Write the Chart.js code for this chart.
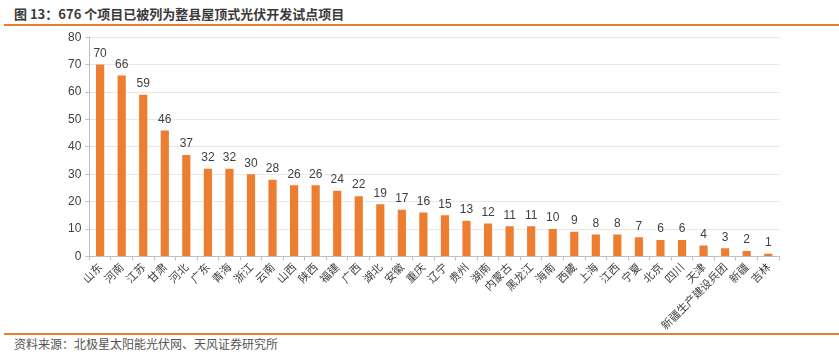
<!DOCTYPE html>
<html>
<head>
<meta charset="utf-8">
<script src="https://cdn.jsdelivr.net/npm/chart.js@4"></script>
<style>
  body { margin: 0; background: #fff; font-family: "Noto Sans CJK SC", "Liberation Sans", sans-serif; }
  #wrap { position: relative; width: 839px; height: 354px; overflow: hidden; }
  #titulo { position: absolute; left: 14px; top: 4px; font-size: 13px; font-weight: bold; color: #3a3a3a; }
  .linea { position: absolute; left: 4px; right: 0; height: 2px; background: #ED7D31; }
  #fuente { position: absolute; left: 14px; top: 335px; font-size: 12px; color: #555; }
  #lienzo { position: absolute; left: 0; top: 26px; width: 839px; height: 306px; }
</style>
</head>
<body>
<div id="wrap">
  <div id="titulo">图 13：676 个项目已被列为整县屋顶式光伏开发试点项目</div>
  <div class="linea" style="top:24px"></div>
  <div id="lienzo"><canvas id="grafica"></canvas></div>
  <div class="linea" style="top:333px"></div>
  <div id="fuente">资料来源：北极星太阳能光伏网、天风证券研究所</div>
</div>
<script>
// provincias y número de proyectos
const provincias = ['山东','河南','江苏','甘肃','河北','广东','青海','浙江','云南','山西','陕西','福建','广西','湖北','安徽','重庆','辽宁','贵州','湖南','内蒙古','黑龙江','海南','西藏','上海','江西','宁夏','北京','四川','天津','新疆生产建设兵团','新疆','吉林'];
const proyectos = [70,66,59,46,37,32,32,30,28,26,26,24,22,19,17,16,15,13,12,11,11,10,9,8,8,7,6,6,4,3,2,1];
const ticksY = [0,10,20,30,40,50,60,70,80];

// etiquetas encima de cada barra
const etiquetasValor = {
    id: 'etiquetasValor',
    afterDatasetsDraw(chart) {
        const ctx = chart.ctx;
        const meta = chart.getDatasetMeta(0);
        ctx.save();
        ctx.font = '12px "Liberation Sans", Arial, sans-serif';
        ctx.fillStyle = '#404040';
        ctx.textAlign = 'center';
        ctx.textBaseline = 'bottom';
        meta.data.forEach((barra, i) => {
            ctx.fillText(proyectos[i], barra.x, barra.y - 5);
        });
        ctx.restore();
    }
};

new Chart(document.getElementById('grafica'), {
    type: 'bar',
    data: {
        labels: provincias,
        datasets: [{
            data: proyectos,
            backgroundColor: '#ED7D31',
            borderWidth: 0,
            barPercentage: 0.38,
            categoryPercentage: 1
        }]
    },
    plugins: [etiquetasValor],
    options: {
        responsive: true,
        maintainAspectRatio: false,
        animation: false,
        layout: { padding: { left: 64, right: 60, top: 4, bottom: 0 } },
        plugins: { legend: { display: false }, tooltip: { enabled: false } },
        scales: {
            y: {
                min: 0, max: 80,
                afterBuildTicks: axis => { axis.ticks = ticksY.map(v => ({ value: v })); },
                grid: { color: '#e8e8e8', drawTicks: true, tickLength: 4, tickColor: '#bfbfbf' },
                border: { color: '#bfbfbf' },
                ticks: { color: '#404040', font: { size: 12, family: '"Liberation Sans", Arial, sans-serif' }, padding: 4 }
            },
            x: {
                grid: { display: true, drawOnChartArea: false, offset: true, tickLength: 4, color: '#bfbfbf' },
                border: { color: '#bfbfbf' },
                ticks: {
                    color: '#404040',
                    autoSkip: false,
                    maxRotation: 45, minRotation: 45,
                    font: { size: 11, family: '"Noto Sans CJK SC", sans-serif' },
                    padding: 0
                }
            }
        }
    }
});
</script>
</body>
</html>
